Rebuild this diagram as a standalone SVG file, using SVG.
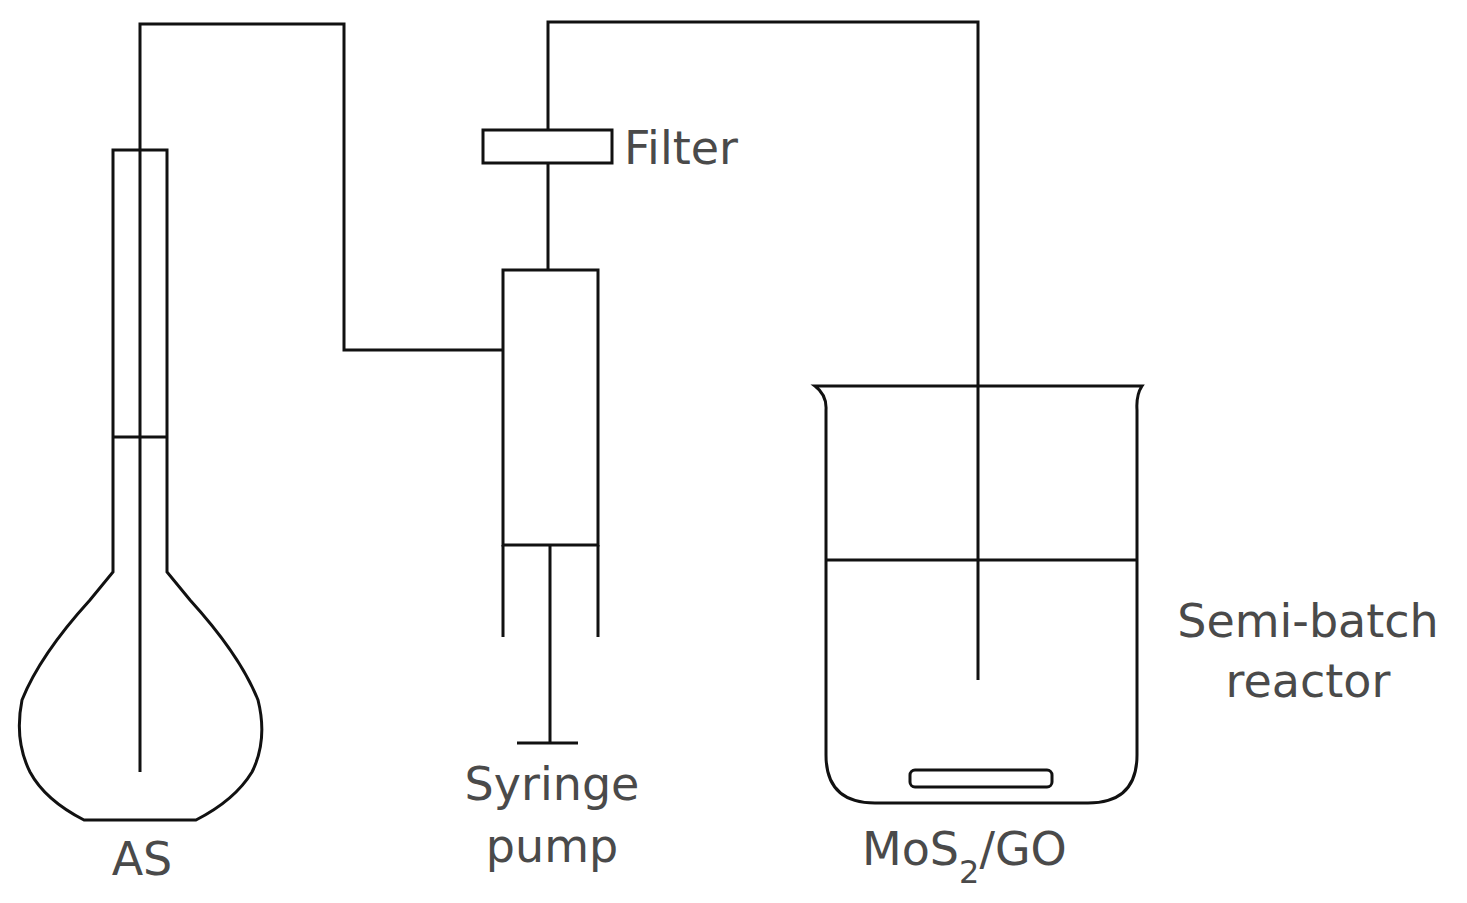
<svg xmlns="http://www.w3.org/2000/svg" width="1467" height="903" viewBox="0 0 1467 903">
<style>
.s{fill:none;stroke:#111;stroke-width:3;stroke-linejoin:miter}
.t{font-family:"DejaVu Sans","Liberation Sans",sans-serif;font-size:46px;fill:#4a4a4a}
</style>
<rect width="1467" height="903" fill="#fff"/>
<g id="connectors">
<path class="s" d="M140,772 V24 H344 V350 H503"/>
<path class="s" d="M548,270 V163 M548,130 V22 H978 V680"/>
</g>
<g id="flask">
<path class="s" d="M113,150 H167 V572 L190,600 Q240,655 258,700 Q268,740 252,772 Q235,800 196,820 H84 Q45,800 30,772 Q14,740 22,700 Q40,655 90,600 L113,572 Z"/>
<path class="s" d="M113,437 H167"/>
<text class="t" x="142" y="875" text-anchor="middle">AS</text>
</g>
<g id="filter">
<rect class="s" x="483" y="130" width="129" height="33"/>
<text class="t" x="624" y="164">Filter</text>
</g>
<g id="syringe">
<rect class="s" x="503" y="270" width="95" height="275"/>
<path class="s" d="M503,545 V637 M598,545 V637 M550,545 V743 M517,743 H578"/>
<text class="t" x="552" y="800" text-anchor="middle">Syringe</text>
<text class="t" x="552" y="862" text-anchor="middle">pump</text>
</g>
<g id="reactor">
<path class="s" d="M815,386 H1142 Q1136,395 1137,410 V755 Q1137,803 1088,803 H875 Q826,803 826,755 V410 Q827,395 815,386 Z"/>
<path class="s" d="M826,560 H1137"/>
<rect class="s" x="910" y="770" width="142" height="17" rx="5"/>
<text class="t" x="1308" y="637" text-anchor="middle">Semi-batch</text>
<text class="t" x="1308" y="697" text-anchor="middle">reactor</text>
<text class="t" x="862" y="865">MoS<tspan font-size="32" dy="18">2</tspan><tspan dy="-18">/GO</tspan></text>
</g>
</svg>
